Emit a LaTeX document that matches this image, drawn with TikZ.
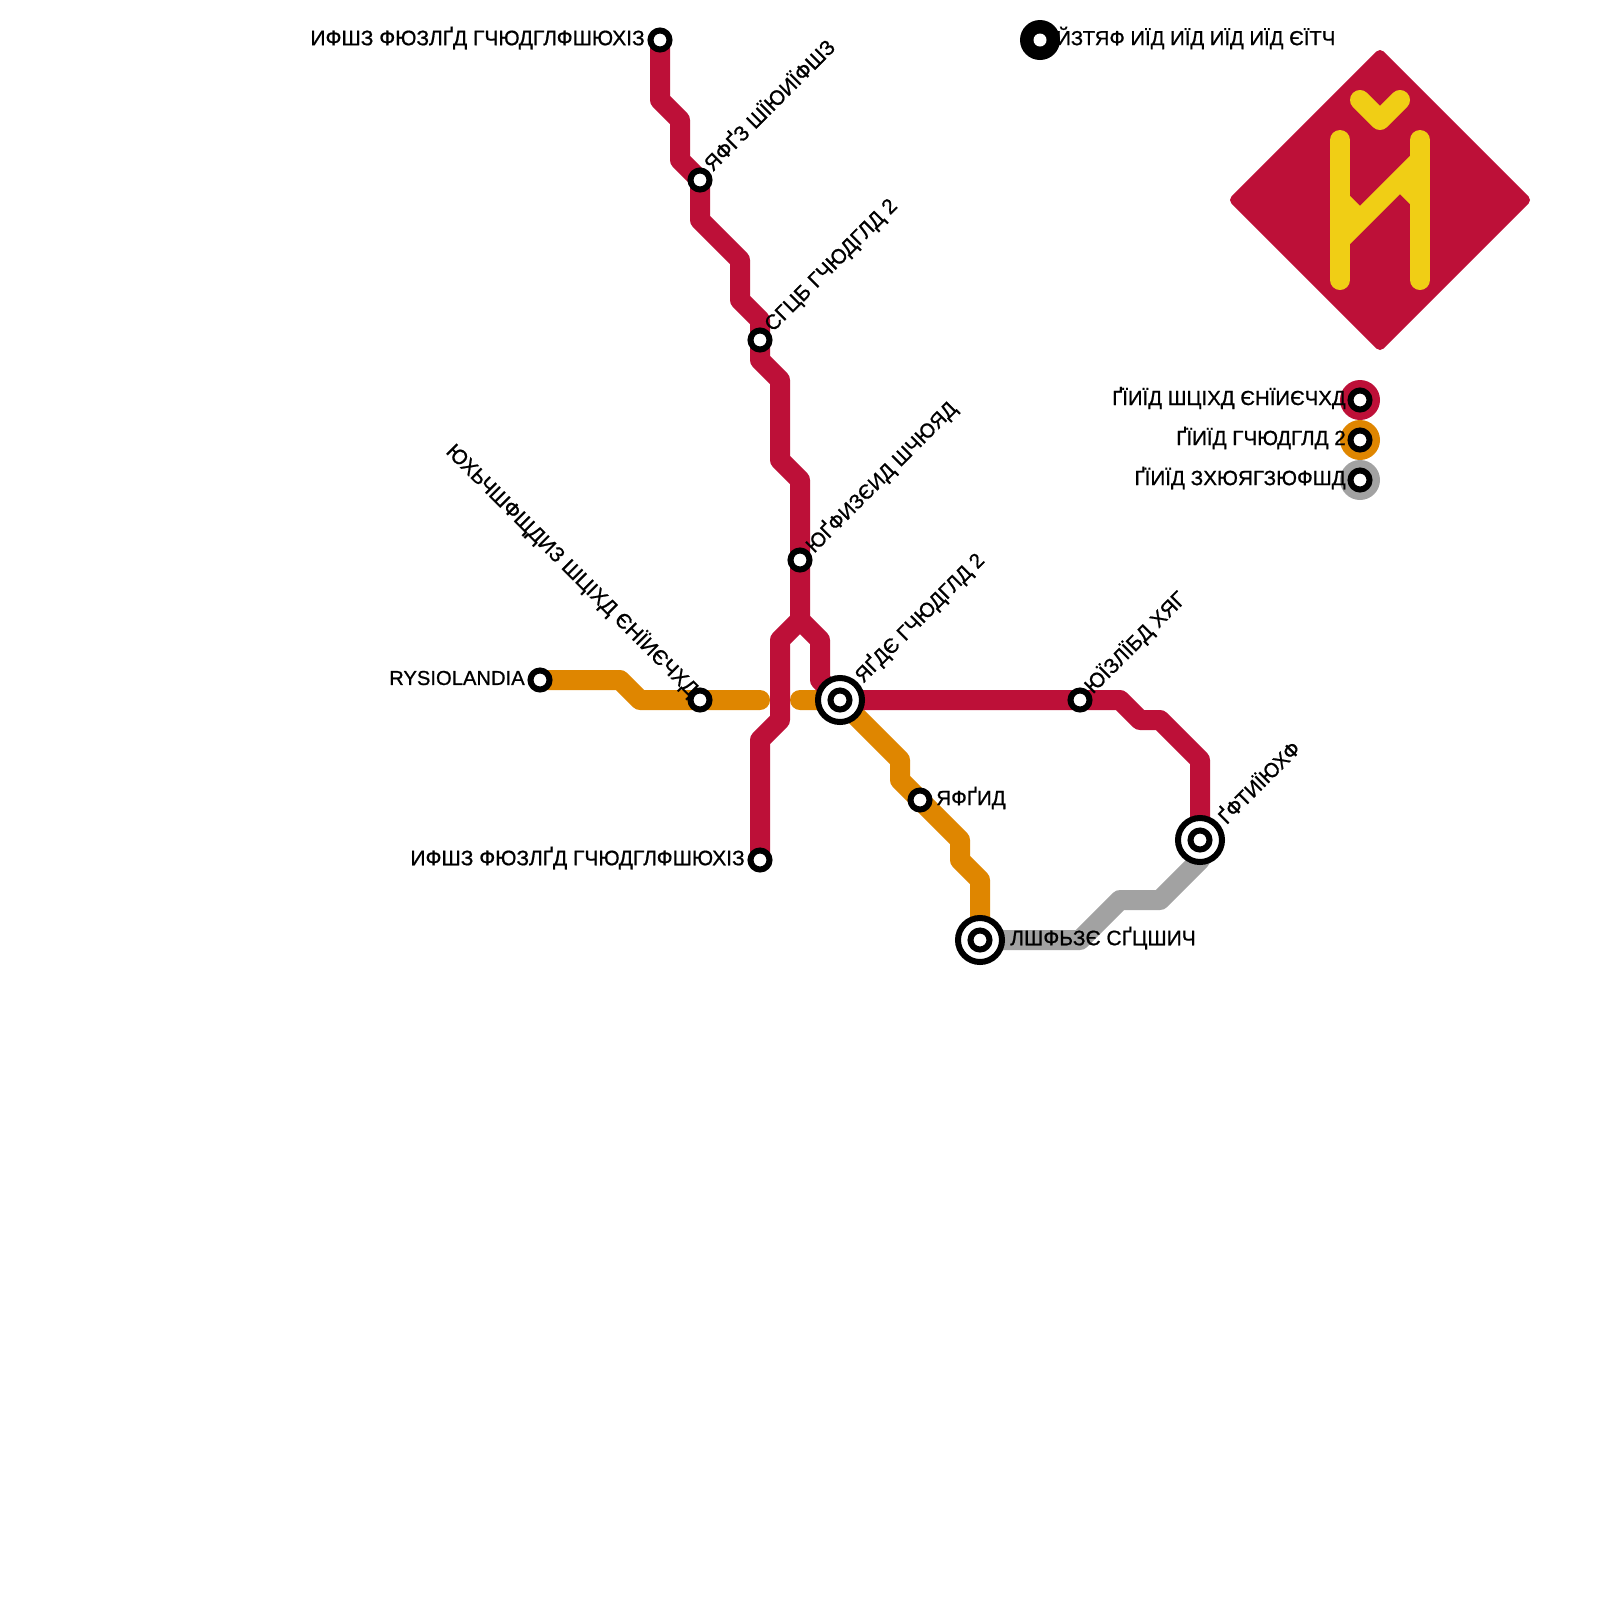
\documentclass[tikz,border=0pt]{standalone}
\usepackage{fontspec}
\setmainfont{Liberation Sans}[FakeBold=0.8]
\definecolor{redline}{HTML}{BD1038}
\definecolor{orangeline}{HTML}{DF8600}
\definecolor{greyline}{HTML}{A2A2A2}
\definecolor{logoyellow}{HTML}{F0CE15}
\tikzset{
 x=0.025cm,y=-0.025cm,
 metro/.style={line width=0.5cm,line join=round,line cap=round},
 station/.style={circle,draw=black,fill=white,line width=0.15cm,minimum size=0.475cm,inner sep=0pt},
 hub/.style={circle,draw=black,fill=white,line width=0.15cm,minimum size=1.1cm,inner sep=0pt},
 hubcore/.style={station},
 lbl/.style={font=\fontsize{0.525cm}{0.6cm}\selectfont,inner sep=0pt,text=black},
 sized/.style={font=\fontsize{#1cm}{0.6cm}\selectfont},
 lblr/.style={lbl,anchor=west},
 lbll/.style={lbl,anchor=east},
 lbld/.style={lbl,anchor=west,rotate=45},
 lblu/.style={lbl,anchor=east,rotate=-45},
 logo/.style={line width=0.5cm,line join=round,line cap=round,draw=logoyellow},
}
\begin{document}
\begin{tikzpicture}
\useasboundingbox (0,0) rectangle (1600,1600);
\coordinate (ra) at (660,40);
\coordinate (rf) at (800,620);
\coordinate (rz) at (760,860);
\coordinate (ry) at (1200,840);
\coordinate (ob) at (540,680);
\coordinate (oe) at (760,700);
\coordinate (os) at (800,700);
\coordinate (oz) at (980,940);
% lines
\draw[metro,draw=greyline] (oz) -- (1080,940) -- (1120,900) -- (1160,900) -- (1200,860) -- (ry);
\draw[metro,draw=orangeline] (ob) -- (620,680) -- (640,700) -- (oe);
\draw[metro,draw=orangeline] (os) -- (840,700) -- (900,760) -- (900,780) -- (960,840) -- (960,860) -- (980,880) -- (oz);
\draw[metro,draw=redline] (ra) -- (660,100) -- (680,120) -- (680,160) -- (700,180) -- (700,220) -- (740,260) -- (740,300) -- (760,320) -- (760,360) -- (780,380) -- (780,460) -- (800,480) -- (rf) -- (780,640) -- (780,720) -- (760,740) -- (rz);
\draw[metro,draw=redline] (rf) -- (820,640) -- (820,680) -- (840,700) -- (1120,700) -- (1140,720) -- (1160,720) -- (1200,760) -- (ry);
% stations
\node[station] (s1) at (660,40) {};
\node[station] (s2) at (700,180) {};
\node[station] (s3) at (760,340) {};
\node[station] (s4) at (800,560) {};
\node[station] (s5) at (540,680) {};
\node[station] (s6) at (700,700) {};
\node[station] (s7) at (1080,700) {};
\node[station] (s8) at (920,800) {};
\node[station] (s9) at (760,860) {};
\node[hub] (h1) at (840,700) {}; \node[hubcore] (h1c) at (840,700) {};
\node[hub] (h2) at (1200,840) {}; \node[hubcore] (h2c) at (1200,840) {};
\node[hub] (h3) at (980,940) {}; \node[hubcore] (h3c) at (980,940) {};
% labels
\node[lbll] (t1) at (645,38) {ИФШЗ ФЮЗЛҐД ГЧЮДГЛФШЮХІЗ};
\node[lbld,sized=0.525] (t2) at (706,166) {ЯФҐЗ ШЇЮИЇФШЗ};
\node[lbld] (t3) at (769,329) {СГЦБ ГЧЮДГЛД 2};
\node[lbld,sized=0.51] (t4) at (809,549) {ЮҐФИЗЄИД ШЧЮЯД};
\node[lbld,sized=0.515] (t5) at (858,679) {ЯҐДЄ ГЧЮДГЛД 2};
\node[lbld] (t6) at (1088,690) {ЮЇЗЛЇБД ХЯГ};
\node[lbld,sized=0.515] (t7) at (1220,819) {ҐФТИЇЮХФ};
\node[lblr,sized=0.515] (t8) at (936,798) {ЯФҐИД};
\node[lblr] (t9) at (1010,938) {ЛШФЬЗЄ СҐЦШИЧ};
\node[lblu] (t10) at (695,693) {ЮХЬЧШФЩДИЗ ШЦІХД ЄНЇИЄЧХД};
\node[lbll,sized=0.505] (t11) at (525,678) {RYSIOLANDIA};
\node[lbll] (t12) at (745,858) {ИФШЗ ФЮЗЛҐД ГЧЮДГЛФШЮХІЗ};
% legend
\fill[black] (1040,40) circle (20);
\fill[white] (1040,40) circle (6.5);
\node[lblr,sized=0.508] (t13) at (1056,38) {ЙЗТЯФ ИЇД ИЇД ИЇД ИЇД ЄЇТЧ};
\fill[redline] (1360,400) circle (20);
\fill[orangeline] (1360,440) circle (20);
\fill[greyline] (1360,480) circle (20);
\node[station] (k1) at (1360,400) {};
\node[station] (k2) at (1360,440) {};
\node[station] (k3) at (1360,480) {};
\node[lbll,sized=0.51] (t14) at (1346,398) {ҐЇИЇД ШЦІХД ЄНЇИЄЧХД};
\node[lbll,sized=0.515] (t15) at (1346,438) {ҐЇИЇД ГЧЮДГЛД 2};
\node[lbll,sized=0.517] (t16) at (1346,478) {ҐЇИЇД ЗХЮЯГЗЮФШД};
% logo
\fill[redline,draw=redline,line width=0.25cm,line join=round] (1380,55) -- (1525,200) -- (1380,345) -- (1235,200) -- cycle;
\draw[logo] (1340,140) -- (1340,280);
\draw[logo] (1420,140) -- (1420,280);
\draw[logo,line cap=butt] (1340,240) -- (1420,160);
\draw[logo,line cap=butt] (1340,200) -- (1360,220);
\draw[logo,line cap=butt] (1400,180) -- (1420,200);
\draw[logo] (1360,100) -- (1380,120) -- (1400,100);
\end{tikzpicture}
\end{document}
